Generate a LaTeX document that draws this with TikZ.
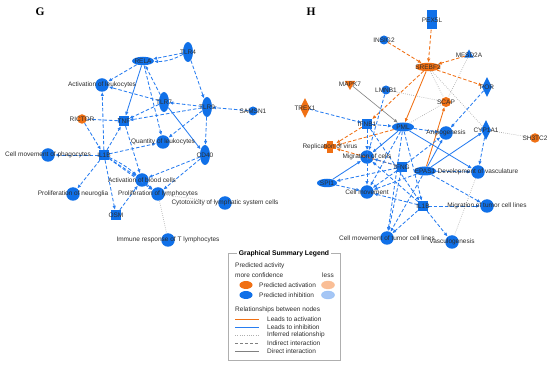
\documentclass[tikz,border=0pt]{standalone}
\usepackage{fontspec}
\setmainfont{Liberation Sans}
\newfontfamily\panelfont{Liberation Serif}
\usepackage{xcolor}
\usetikzlibrary{arrows.meta,shapes.geometric}

\definecolor{nblue}{RGB}{16,112,232}
\definecolor{eblue}{RGB}{40,125,240}
\definecolor{norange}{RGB}{240,112,20}
\definecolor{lorange}{RGB}{250,190,150}
\definecolor{lblue}{RGB}{165,198,245}
\definecolor{txtgray}{RGB}{45,45,45}
\definecolor{lgray}{RGB}{175,175,175}

\tikzset{
  lbl/.style={font=\fontsize{6.5}{7}\selectfont,text=txtgray,inner sep=0pt},
  fn/.style={circle,fill=nblue,minimum size=13.5pt,inner sep=0pt},
  bdot/.style={circle,fill=nblue,minimum size=9pt,inner sep=0pt},
  odot/.style={circle,fill=norange,minimum size=9.5pt,inner sep=0pt},
  vell/.style={ellipse,fill=nblue,minimum width=10pt,minimum height=20pt,inner sep=0pt},
  hell/.style={ellipse,fill=nblue,minimum width=22pt,minimum height=8.5pt,inner sep=0pt},
  sq/.style={rectangle,fill=nblue,minimum size=10pt,inner sep=0pt},
  dmd/.style={diamond,fill=nblue,minimum width=10pt,minimum height=20pt,inner sep=0pt},
  tri/.style={regular polygon,regular polygon sides=3,minimum size=12pt,inner sep=0pt},
  plusbox/.style={rectangle,minimum size=12pt,inner sep=0pt,
    path picture={
      \fill[norange] ([xshift=-6pt,yshift=-2.5pt]path picture bounding box.center)
        rectangle ([xshift=6pt,yshift=2.5pt]path picture bounding box.center);
      \fill[norange] ([xshift=-2.8pt,yshift=-6pt]path picture bounding box.center)
        rectangle ([xshift=2.8pt,yshift=6pt]path picture bounding box.center);}},
  ind/.style={eblue,line width=0.85pt,dash pattern=on 3.5pt off 2pt,-{Latex[length=4pt,width=3.5pt]}},
  dir/.style={eblue,line width=0.85pt,-{Latex[length=4pt,width=3.5pt]}},
  oind/.style={ind,norange},
  odir/.style={dir,norange},
  inhib/.style={ind,-{Bar[width=5pt]}},
  inf/.style={lgray,line width=0.7pt,dash pattern=on 0.7pt off 1.4pt},
  gdir/.style={gray,line width=0.6pt,-{Latex[length=4pt,width=3.5pt]}},
  legline/.style={line width=0.9pt},
}

\begin{document}
\begin{tikzpicture}[x=1pt,y=-1pt]
  \useasboundingbox (0,0) rectangle (550,366);
  \node[font=\panelfont\bfseries\fontsize{11.5}{12}\selectfont] (panelG) at (40,12) {G};
  \node[font=\panelfont\bfseries\fontsize{11.5}{12}\selectfont] (panelH) at (311,12) {H};

  % panel G
  \node[vell] (tlr4) at (188,52) {};
  \node[hell] (rela) at (143,61) {};
  \node[vell] (tlr7) at (164,102) {};
  \node[vell] (tlr9) at (207,107) {};
  \node[vell] (cd40) at (205,155) {};
  \node[bdot] (samsn1) at (253,111) {};
  \node[odot] (rictor) at (82,119) {};
  \node[sq] (tnf) at (124,121) {};
  \node[sq] (ilbg) at (104,155) {};
  \node[sq] (osm) at (116,215) {};
  \foreach \n/\x/\y in {actleuk/102/85,qleuk/163/142,cmphag/48/155,actblood/142/180,
      prneur/73/194,prlymph/158/194,cytox/225/203,immune/168/240}
    \node[fn] (\n) at (\x,\y) {};

  % panel H
  \node[rectangle,fill=nblue,minimum width=10pt,minimum height=19pt,inner sep=0pt] (pex) at (432,20) {};
  \node[bdot] (insig) at (384,40) {};
  \node[tri,fill=nblue,minimum size=11pt] (mfsd) at (469,55) {};
  \node[hell,fill=norange,minimum width=25pt] (srebf) at (428,67) {};
  \node[tri,shape border rotate=180,fill=norange] (mapk) at (350,84) {};
  \node[bdot] (lmnb) at (386,90) {};
  \node[dmd] (por) at (487,87) {};
  \node[odot,minimum size=10pt] (scap) at (446,102) {};
  \node[dmd,fill=norange] (trex) at (305,108) {};
  \node[sq] (ifnb) at (367,124) {};
  \node[hell,minimum height=9pt] (pml) at (403,127) {};
  \node[dmd] (cyp) at (486,130) {};
  \node[odot] (sh3) at (535,138) {};
  \node[plusbox] (repl) at (330,147) {};
  \node[sq] (ifng) at (402,167) {};
  \node[hell,minimum height=9pt] (epas) at (425,171) {};
  \node[hell,minimum width=20pt] (spi) at (327,183) {};
  \node[sq] (ilbh) at (423,206) {};
  \foreach \n/\x/\y in {angio/446/133,migc/367/157,devv/478/172,cellm/367/192,
      migt/487/206,cmt/387/238,vasc/452/242}
    \node[fn] (\n) at (\x,\y) {};

  \foreach \a/\b in {tlr4/rela,tlr4/tlr9,tlr9/tlr7,samsn1/tlr9,tlr9/tnf,tlr7/tnf,
      tlr7/actleuk,tlr9/qleuk,tlr9/cd40,tlr7/rela,rela/qleuk,rela/actleuk,ilbg/tnf,
      ilbg/actleuk,ilbg/cmphag,ilbg/qleuk,ilbg/actblood,ilbg/prneur,ilbg/osm,
      ilbg/prlymph,osm/actblood,tnf/actblood,cd40/actblood,cd40/prlymph,
      actblood/prlymph,rictor/ilbg}
    \draw[ind] (\a) -- (\b);
  \draw[ind] (tlr4) to[bend left=14] (rela);
  \draw[ind] (ilbg) to[bend left=8] (actblood);
  \draw[dir] (rela) -- (tnf);
  \draw[dir] (tlr7) -- (cd40);
  \draw[inhib] (rictor) -- (tnf);
  \draw[inf] (prlymph) -- (immune);
  \draw[inf] (prlymph) -- (cytox);

  \foreach \a/\b in {srebf/scap,srebf/cyp,lmnb/scap,pml/scap,mfsd/scap,cyp/sh3,devv/vasc}
    \draw[inf] (\a) -- (\b);
  \foreach \a/\b in {pex/srebf,insig/srebf,mfsd/srebf,srebf/por,srebf/ifnb,
      ifnb/repl,pml/repl,ifng/repl}
    \draw[oind] (\a) -- (\b);
  \draw[odir] (srebf) -- (pml);
  \draw[odir] (epas) -- (scap);
  \draw[gdir] (mapk) -- (pml);
  \foreach \a/\b in {trex/ifnb,ifnb/pml,lmnb/migc,ifnb/migc,ifnb/cellm,ifnb/ilbh,
      por/angio,cyp/devv,pml/angio,pml/cellm,pml/cmt,pml/ilbh,epas/devv,epas/migt,
      epas/cellm,epas/cmt,ifng/migc,ifng/cellm,ifng/cmt,ifng/angio,ifng/spi,
      ilbh/migt,ilbh/vasc,ilbh/cellm,ilbh/migc,ilbh/cmt,spi/cellm}
    \draw[ind] (\a) -- (\b);
  \foreach \a/\b in {pml/migc,pml/devv,epas/angio,epas/cyp,spi/migc}
    \draw[dir] (\a) -- (\b);

  \foreach \n/\t in {tlr4/TLR4,rela/RELA,tlr7/TLR7,tlr9/TLR9,cd40/CD40,samsn1/SAMSN1,
      rictor/RICTOR,tnf/TNF,ilbg/IL1B,osm/OSM,actleuk/Activation of leukocytes,
      qleuk/Quantity of leukocytes,cmphag/Cell movement of phagocytes,
      actblood/Activation of blood cells,prneur/Proliferation of neuroglia,
      prlymph/Proliferation of lymphocytes,cytox/Cytotoxicity of lymphatic system cells,
      immune/Immune response of T lymphocytes,
      pex/PEX5L,insig/INSIG2,mfsd/MFSD2A,srebf/SREBF2,mapk/MAPK7,lmnb/LMNB1,por/POR,
      scap/SCAP,trex/TREX1,ifnb/IFNB1,pml/PML,cyp/CYP1A1,sh3/SH3TC2,ifng/IFNG,
      epas/EPAS1,spi/SPI1,ilbh/IL1B,angio/Angiogenesis,repl/Replication of virus,
      migc/Migration of cells,devv/Development of vasculature,cellm/Cell movement,
      migt/Migration of tumor cell lines,cmt/Cell movement of tumor cell lines,
      vasc/Vasculogenesis}
    \node[lbl] (\n-t) at (\n) {\t};

  % legend
  \node[draw=lgray,line width=0.6pt,minimum width=112pt,minimum height=107pt,inner sep=0pt] (legend) at (284,306.5) {};
  \node[fill=white,inner sep=1.5pt,font=\bfseries\fontsize{6.8}{8}\selectfont] (legtitle) at (284,253.5) {Graphical Summary Legend};
  \node[lbl,anchor=west] (lpa) at (235,266) {Predicted activity};
  \node[lbl,anchor=west] (lmc) at (235,275) {more confidence};
  \node[lbl] (lless) at (328,275) {less};
  \node[ellipse,fill=norange,minimum width=13pt,minimum height=8pt,inner sep=0pt] (kao) at (246,285) {};
  \node[ellipse,fill=lorange,draw=norange!45,line width=0.4pt,minimum width=13pt,minimum height=8pt,inner sep=0pt] (kal) at (328,285) {};
  \node[ellipse,fill=nblue,minimum width=13pt,minimum height=8pt,inner sep=0pt] (kio) at (246,295) {};
  \node[ellipse,fill=lblue,draw=nblue!45,line width=0.4pt,minimum width=13pt,minimum height=8pt,inner sep=0pt] (kil) at (328,295) {};
  \node[lbl,anchor=west] (lact) at (259,285) {Predicted activation};
  \node[lbl,anchor=west] (linh) at (259,295) {Predicted inhibition};
  \node[lbl,anchor=west] (lrel) at (235,310) {Relationships between nodes};
  \draw[legline,draw=norange] (235,319) -- (259,319);
  \draw[legline,draw=eblue] (235,327) -- (259,327);
  \draw[legline,draw=lgray,dash pattern=on 0.7pt off 1.6pt] (235,335) -- (259,335);
  \draw[legline,draw=gray,dash pattern=on 3pt off 2pt] (235,343) -- (259,343);
  \draw[legline,draw=gray] (235,351) -- (259,351);
  \foreach \y/\t in {319/Leads to activation,327/Leads to inhibition,
      335/Inferred relationship,343/Indirect interaction,351/Direct interaction}
    \node[lbl,anchor=west] at (267,\y) {\t};
\end{tikzpicture}
\end{document}
